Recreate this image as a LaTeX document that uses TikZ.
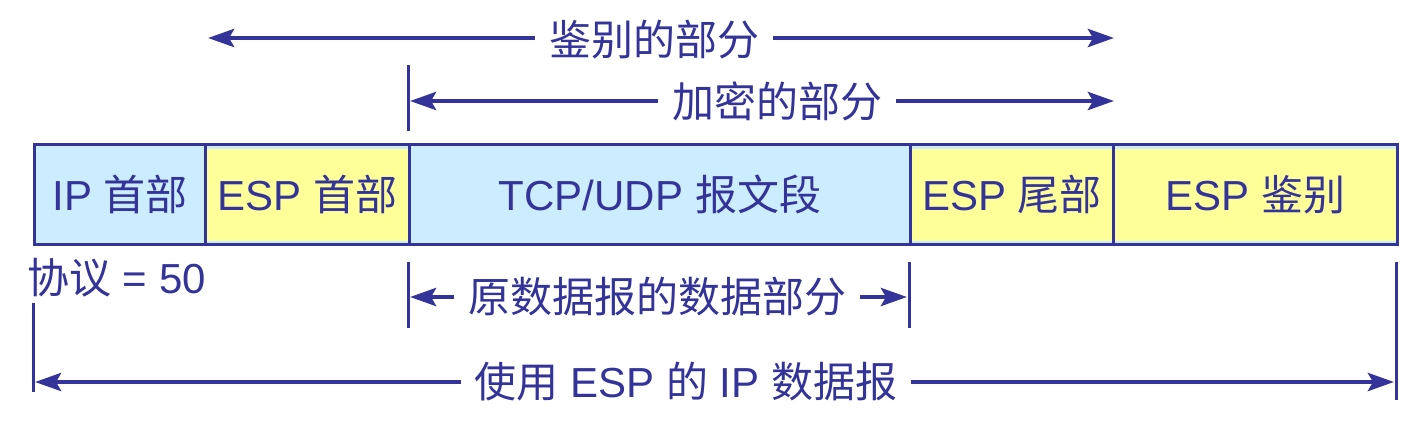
\documentclass[tikz,border=0pt]{standalone}
\usepackage{fontspec}
\setmainfont{Liberation Sans}
\newfontfamily\cjk{Noto Sans CJK SC}
\usetikzlibrary{arrows.meta}
\definecolor{navy}{HTML}{333399}
\definecolor{lblue}{HTML}{CCECFF}
\definecolor{lyel}{HTML}{FFFF99}
\tikzset{
  x=1pt, y=-1pt,
  txt/.style={text=navy, font=\fontsize{42}{48}\selectfont, inner sep=0pt},
  cell/.style={txt, draw=navy, line width=3pt, fill=lblue, anchor=north west, minimum height=100pt},
  ycell/.style={cell, path picture={\fill[lyel] ([xshift=1.5pt,yshift=-4pt]path picture bounding box.north west) rectangle ([xshift=-1.5pt,yshift=4pt]path picture bounding box.south east);}},
  lab/.style={txt, inner xsep=14pt},
  arr/.style={draw=navy, line width=4.5pt, -{Stealth[length=26pt,width=18pt,inset=5pt]}},
  tick/.style={draw=navy, line width=3pt},
}
\begin{document}
\begin{tikzpicture}
\useasboundingbox (0,0) rectangle (1422,434);
% cells
\node[cell, minimum width=171pt] (ip) at (33,143) {IP {\cjk 首部}};
\node[ycell, minimum width=204pt] (esph) at (204,143) {ESP {\cjk 首部}};
\node[cell, minimum width=501pt] (tcp) at (408,143) {TCP/UDP {\cjk 报文段}};
\node[ycell, minimum width=203pt] (espt) at (909,143) {ESP {\cjk 尾部}};
\node[ycell, minimum width=284pt] (espa) at (1112,143) {ESP {\cjk 鉴别}};
% tick coordinates
\coordinate (t1a) at (408,65);
\coordinate (t1b) at (408,131);
\coordinate (t2a) at (408,262);
\coordinate (t2b) at (408,328);
\coordinate (t3a) at (909,262);
\coordinate (t3b) at (909,328);
\coordinate (t4a) at (1396,262);
\coordinate (t4b) at (1396,400);
\coordinate (t5a) at (33,303);
\coordinate (t5b) at (33,392);
\draw[tick] (t1a) -- (t1b);
\draw[tick] (t2a) -- (t2b);
\draw[tick] (t3a) -- (t3b);
\draw[tick] (t4a) -- (t4b);
\draw[tick] (t5a) -- (t5b);
% arrow end coordinates
\coordinate (a1l) at (208,38);
\coordinate (a1r) at (1114,38);
\coordinate (a2l) at (410,101);
\coordinate (a2r) at (1114,101);
\coordinate (a3l) at (410,297);
\coordinate (a3r) at (907,297);
\coordinate (a4l) at (35,382);
\coordinate (a4r) at (1394,382);
% labels
\node[lab] (l1) at (654,40) {\cjk 鉴别的部分};
\node[lab] (l2) at (777,101) {\cjk 加密的部分};
\node[lab] (l3) at (657,297) {\cjk 原数据报的数据部分};
\node[lab] (l4) at (686,382) {{\cjk 使用} ESP {\cjk 的} IP {\cjk 数据报}};
\node[txt, anchor=west] (proto) at (27,278) {{\cjk 协议} = 50};
% arrows
\draw[arr] (l1.west |- a1l) -- (a1l);
\draw[arr] (l1.east |- a1r) -- (a1r);
\draw[arr] (l2.west) -- (a2l);
\draw[arr] (l2.east) -- (a2r);
\draw[arr] (l3.west) -- (a3l);
\draw[arr] (l3.east) -- (a3r);
\draw[arr] (l4.west) -- (a4l);
\draw[arr] (l4.east) -- (a4r);
\end{tikzpicture}
\end{document}
